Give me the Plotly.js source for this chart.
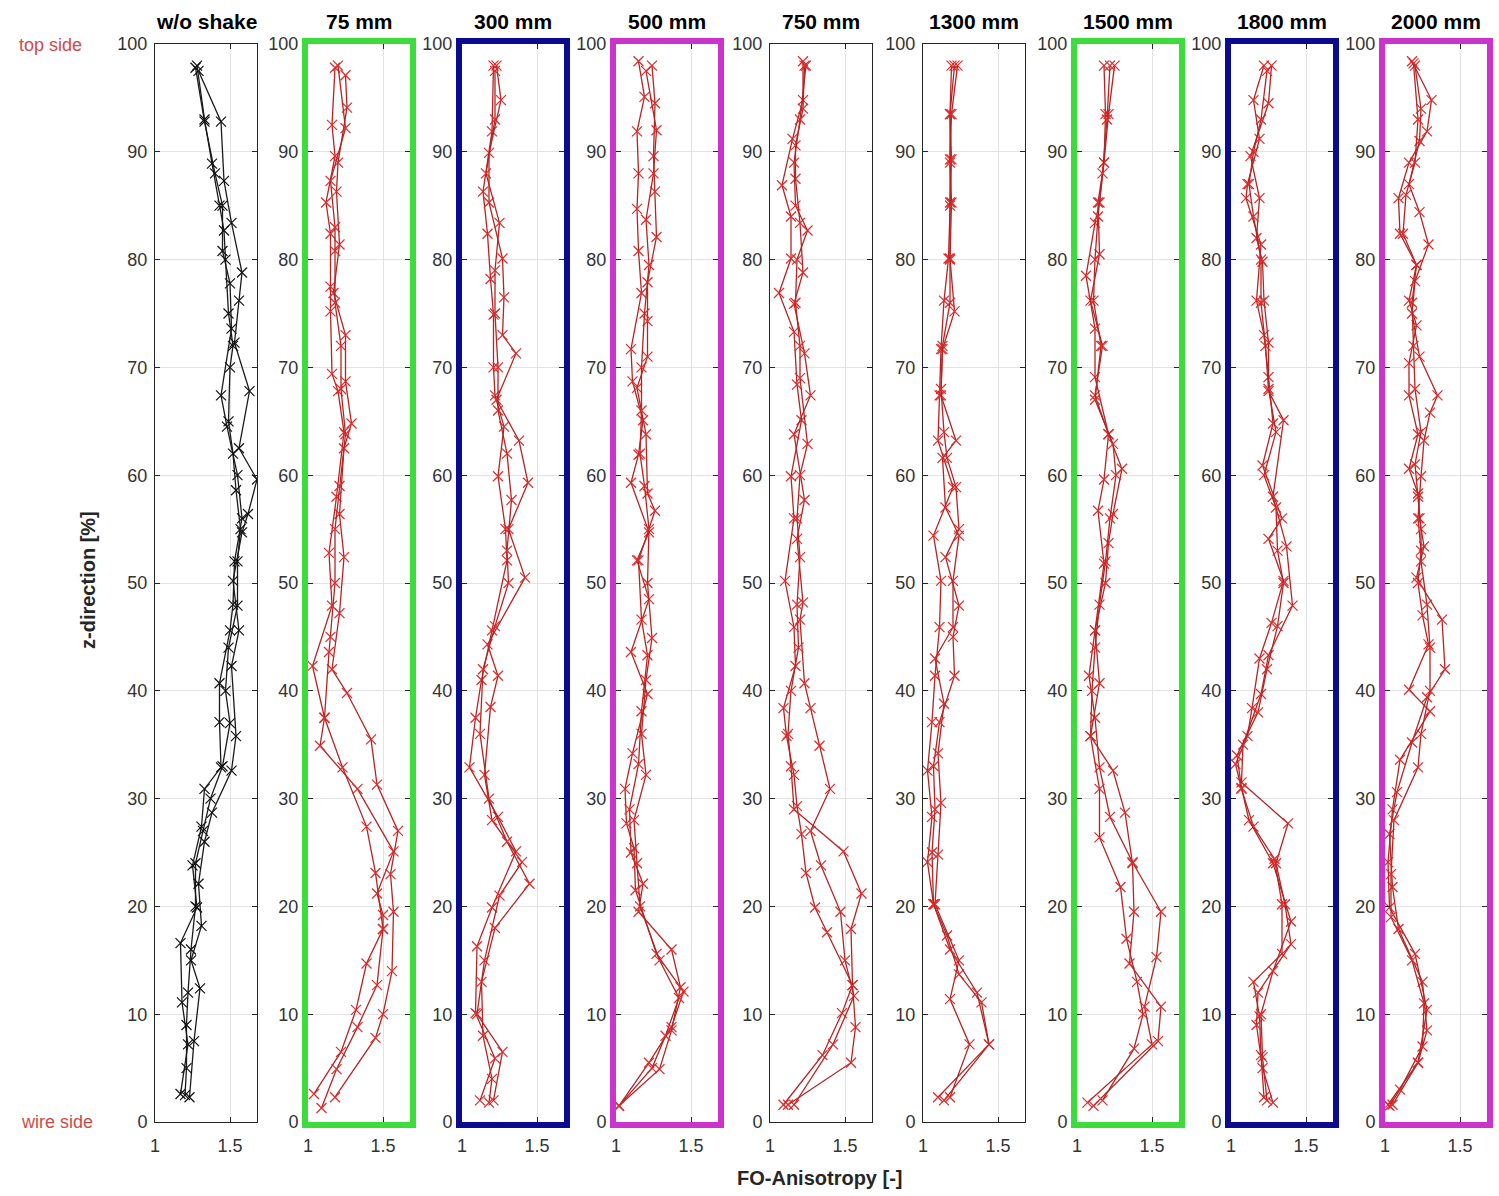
<!DOCTYPE html>
<html><head><meta charset="utf-8">
<script src="https://cdn.plot.ly/plotly-3.0.1.min.js"></script>
<style>body{margin:0;background:#fff}#chart{width:1499px;height:1196px}</style>
</head><body><div id="chart"></div>
<script>
const panelTitles = ['w/o shake','75 mm','300 mm','500 mm','750 mm','1300 mm','1500 mm','1800 mm','2000 mm'];
const frameColors = [null,'#3ddc3d','#0b0b8f','#cc33cc',null,null,'#3ddc3d','#0b0b8f','#cc33cc'];
const xTicks = [1, 1.5];

// w/o shake
const y_wo = [
 [97.8,92.8,88.0,85.0,80.8,77.8,73.6,67.4,64.5,60,56,52,48,45.6,40.7,37.1,32.9,30.9,27.4,23.8,19.9,16.6,11.1,7.2,2.6],
 [97.5,92.8,87.3,83.4,78.8,76.2,72.3,67.8,62.5,59.6,56.4,54.7,50.2,45.6,42.3,35.8,32.6,28.7,26,22.1,18.2,15,12.4,7.5,2.3],
 [98,93,88.9,85,82.7,80,75,72,70,65,62,58.6,55,52,47.9,44,40,37,33,30,27,24,20,16,12,9,5,2.5]];
const x_wo = [
 [1.27,1.33,1.40,1.45,1.45,1.50,1.51,1.44,1.48,1.55,1.58,1.53,1.52,1.50,1.43,1.43,1.44,1.33,1.31,1.25,1.28,1.17,1.18,1.22,1.17],
 [1.29,1.44,1.46,1.51,1.58,1.56,1.53,1.63,1.56,1.68,1.62,1.58,1.52,1.56,1.51,1.54,1.51,1.38,1.33,1.29,1.31,1.24,1.30,1.26,1.23],
 [1.28,1.33,1.38,1.43,1.46,1.47,1.49,1.52,1.50,1.49,1.52,1.54,1.57,1.55,1.55,1.49,1.47,1.50,1.45,1.37,1.32,1.27,1.27,1.24,1.22,1.21,1.21,1.20]];
// 75 mm
const y_75 = [
 [97.8,92.5,89.6,85.3,82.4,77.5,75.2,69.4,67.8,64,58,52.8,47.9,42.3,37.5,32.9,27.4,23.1,17.9,14.7,10.4,6.5,2.6],
 [97.1,94.1,89,86.3,81.4,76.9,73,68.7,64.8,62.5,56.4,52.4,47.2,42,39.8,35.5,31.3,27,23,19.5,14,10,7.8,2.3],
 [98,92.2,87.3,83,80.8,76,72,68,63.8,59,55,50,45,43.6,37.5,34.9,30.9,25.1,21.2,19.2,17.9,12.7,8.8,4.9,1.3]];
const x_75 = [
 [1.18,1.16,1.18,1.12,1.15,1.15,1.15,1.16,1.20,1.24,1.19,1.14,1.16,1.03,1.11,1.23,1.39,1.45,1.50,1.39,1.32,1.22,1.04],
 [1.25,1.26,1.20,1.19,1.21,1.17,1.25,1.25,1.29,1.24,1.21,1.24,1.21,1.16,1.26,1.42,1.46,1.60,1.55,1.57,1.56,1.50,1.45,1.18],
 [1.20,1.25,1.15,1.18,1.18,1.18,1.22,1.22,1.25,1.21,1.18,1.18,1.15,1.14,1.11,1.08,1.33,1.57,1.46,1.50,1.50,1.46,1.33,1.19,1.09]];
// 300 mm
const y_300 = [
 [98,91.9,86.3,82.4,78.2,74.9,70,67.4,64.5,59.9,55,52.1,45.6,41,37.5,32.9,28.3,25.1,19.9,16.3,10.1,5.9,2],
 [98,94.8,89.9,85.3,80.1,76.5,73,71.3,67,63.2,59.3,55,50.5,44.3,41.4,38.5,32.2,28,24.1,21,15,10,6.5,2],
 [97.5,93,88,83.4,79,75,70,66,62,57.7,53,50,46,42,36,30,26,22.1,18,13,8,4,1.8]];
const x_300 = [
 [1.21,1.20,1.14,1.17,1.19,1.21,1.21,1.22,1.28,1.24,1.29,1.30,1.20,1.13,1.09,1.05,1.24,1.36,1.20,1.10,1.09,1.22,1.12],
 [1.23,1.26,1.18,1.18,1.27,1.28,1.27,1.36,1.23,1.38,1.44,1.31,1.42,1.17,1.24,1.19,1.15,1.20,1.40,1.25,1.15,1.10,1.27,1.21],
 [1.22,1.22,1.16,1.25,1.22,1.22,1.24,1.24,1.30,1.33,1.30,1.31,1.22,1.14,1.12,1.18,1.30,1.45,1.22,1.13,1.14,1.20,1.18]];
// 500 mm
const y_500 = [
 [98.4,95.1,91.9,88,84.7,80.8,76.9,71.7,68.7,65.1,61.9,59.3,54.7,52.1,48.5,43.6,39.7,34.2,30.9,27.7,25.4,21.5,15.6,12.1,8.8,5.5,1.5],
 [98,94.5,89.6,86.3,82.1,77.9,74.3,71,68.1,63.8,58.3,56.7,52.1,46.6,43.3,38.1,33.2,29,25,22.1,19.5,16,12.5,8.5,4.9,1.5],
 [97.5,92,88,83.7,79.5,75,70,66,62,59,55,50,44.9,41,36,32.2,28,24,20,15,11.5,8,5,1.5]];
const x_500 = [
 [1.15,1.19,1.14,1.15,1.14,1.15,1.17,1.10,1.11,1.18,1.15,1.10,1.22,1.14,1.22,1.10,1.21,1.11,1.06,1.07,1.12,1.13,1.27,1.45,1.37,1.22,1.02],
 [1.24,1.26,1.25,1.26,1.27,1.21,1.21,1.21,1.14,1.20,1.21,1.26,1.15,1.17,1.21,1.17,1.15,1.09,1.10,1.18,1.15,1.37,1.43,1.37,1.29,1.02],
 [1.20,1.27,1.25,1.20,1.22,1.19,1.17,1.17,1.16,1.19,1.22,1.21,1.24,1.20,1.17,1.20,1.12,1.14,1.16,1.29,1.42,1.33,1.24,1.02]];
// 750 mm
const y_750 = [
 [98.4,94.8,91.2,86.9,84,80.1,76.9,73.3,68.4,65.1,59.9,56,50.2,45.9,42.3,38.4,35.8,32.2,29.3,26.7,23.1,19.9,17.6,12.7,10.1,6.2,1.6],
 [98,94,90.6,87.5,83.4,78.8,75.9,71.3,67.4,63.8,57.7,54.1,48.2,46.6,40.7,38.4,34.9,30.9,27,23.8,19.5,15,11.7,7.2,1.6],
 [98,93,89,85,82.7,80,76,72,69,62.9,60,56,52.4,48,44,40,36,33,29,25.1,21.2,17.9,12.7,8.8,5.5,1.6]];
const x_750 = [
 [1.22,1.22,1.15,1.08,1.14,1.14,1.06,1.16,1.18,1.21,1.14,1.16,1.10,1.16,1.17,1.09,1.11,1.16,1.18,1.21,1.24,1.30,1.38,1.55,1.48,1.35,1.09],
 [1.23,1.22,1.17,1.17,1.20,1.22,1.16,1.23,1.27,1.16,1.23,1.18,1.22,1.20,1.23,1.27,1.33,1.40,1.27,1.34,1.47,1.50,1.56,1.42,1.16],
 [1.24,1.20,1.16,1.17,1.25,1.18,1.17,1.20,1.20,1.25,1.20,1.18,1.20,1.18,1.19,1.14,1.12,1.14,1.16,1.49,1.61,1.54,1.55,1.57,1.54,1.12]];
// 1300 mm
const y_1300 = [
 [98,93.5,89.3,85.3,80.1,76.2,71.7,67.4,63.2,58.9,54.4,50.2,45.9,41.4,37.1,32.6,28.3,24.1,20.2,17.3,13.7,11.1,7.2,2.3],
 [98,93.5,89.3,85.3,80.1,75.2,71.7,67.4,63.2,61.6,57,54.4,50.2,45.9,43,38.8,34.2,29.6,24.8,20.2,15,11.4,7.2,2.3],
 [98,93.5,89,85,80,76,72,68,64,61.6,58.9,55,52.4,47.9,45,41.4,37.1,33,29,25,20.2,16,12,7.2,2]];
const x_1300 = [
 [1.19,1.18,1.19,1.18,1.17,1.14,1.12,1.11,1.10,1.20,1.07,1.12,1.11,1.08,1.06,1.03,1.06,1.03,1.07,1.16,1.24,1.39,1.44,1.10],
 [1.23,1.19,1.18,1.19,1.18,1.21,1.13,1.12,1.22,1.13,1.15,1.24,1.20,1.20,1.08,1.14,1.10,1.12,1.10,1.08,1.24,1.18,1.31,1.18],
 [1.21,1.18,1.18,1.18,1.18,1.18,1.13,1.12,1.14,1.16,1.22,1.24,1.15,1.24,1.20,1.21,1.11,1.07,1.08,1.06,1.07,1.18,1.36,1.44,1.14]];
// 1500 mm
const y_1500 = [
 [98,93.5,89,85.3,80.5,76.2,72,67.4,63.8,59.6,56.7,51.8,45.6,41.4,37.5,32.9,28.3,24.1,19.5,15.3,10.7,7.2,1.8],
 [98,93.5,89,85.3,83.4,78.5,73.6,69.1,63.8,60.6,56.4,53.7,50,45.6,40.7,35.8,32.6,28.7,24,19.5,14.7,10.7,7.5,1.5],
 [98,93,88,84,80,76.2,72,67,62.9,60,56,52,48,44,40,35.8,30.9,26.4,21.8,17,13,10,6.8,2]];
const x_1500 = [
 [1.18,1.19,1.18,1.14,1.15,1.09,1.17,1.12,1.21,1.18,1.14,1.18,1.12,1.08,1.12,1.15,1.22,1.37,1.56,1.53,1.45,1.50,1.07],
 [1.25,1.21,1.18,1.15,1.12,1.06,1.12,1.12,1.21,1.30,1.24,1.21,1.19,1.12,1.15,1.09,1.24,1.32,1.37,1.38,1.35,1.56,1.54,1.11],
 [1.22,1.20,1.17,1.14,1.12,1.11,1.16,1.12,1.24,1.26,1.22,1.19,1.15,1.12,1.10,1.09,1.15,1.15,1.29,1.33,1.40,1.44,1.38,1.17]];
// 1800 mm
const y_1800 = [
 [98,94.8,91.2,87,85.7,81.4,76.2,73,69.1,64.8,60.9,56,54.1,50.2,46.3,43,38.4,35.8,33.2,30.9,27.4,24.4,20.2,15.6,13,9.8,6.2,2.3],
 [98,94.5,89.6,85.7,82,79.8,76.2,72.3,67.8,65.1,58,53.4,47.9,43.3,39.7,35,31.5,27.7,24,20.2,16.5,12,9,5,1.8],
 [97.5,93,90,87,84,80,76,72,68,64,60,57,53,50,46,42,38,34,31,28,24,18.6,14,10,6,2]];
const x_1800 = [
 [1.22,1.15,1.19,1.11,1.10,1.20,1.17,1.22,1.25,1.28,1.21,1.34,1.25,1.35,1.27,1.19,1.14,1.11,1.03,1.07,1.15,1.29,1.34,1.34,1.15,1.19,1.20,1.22],
 [1.27,1.25,1.13,1.19,1.17,1.21,1.22,1.25,1.25,1.35,1.28,1.37,1.41,1.25,1.20,1.08,1.07,1.38,1.30,1.36,1.40,1.18,1.17,1.21,1.28],
 [1.24,1.20,1.15,1.12,1.15,1.20,1.20,1.23,1.25,1.30,1.22,1.30,1.31,1.35,1.31,1.24,1.18,1.04,1.07,1.12,1.28,1.40,1.28,1.20,1.21,1.24]];
// 2000 mm
const y_2000 = [
 [98.4,94.8,91.9,89,85.7,82.4,79.5,76.2,73.9,70.4,67.4,63.8,60.6,58.3,56,53.4,50.5,46.6,42,39.4,35.2,30.6,26.7,21.8,17.9,13,8.5,5.5,1.6],
 [98,94,91,87,84.4,81.4,78,75,71,67.4,65.8,63.2,59.9,56,53,50,47,44.3,40.1,38.1,33.6,29,24.1,19.9,15.6,10.4,5.5,1.6],
 [98.2,93,89,86,82.4,79.5,76,72,68,64,61,58,55,52,48,44,40,36,32.9,28,23,19,15,11,7,3,1.5]];
const x_2000 = [
 [1.18,1.31,1.28,1.16,1.09,1.10,1.21,1.16,1.21,1.16,1.16,1.22,1.16,1.22,1.23,1.26,1.21,1.38,1.40,1.28,1.18,1.08,1.03,1.05,1.09,1.25,1.28,1.22,1.02],
 [1.20,1.24,1.23,1.16,1.23,1.29,1.20,1.18,1.23,1.35,1.30,1.26,1.24,1.22,1.24,1.22,1.25,1.29,1.16,1.30,1.10,1.05,1.02,1.03,1.20,1.28,1.22,1.05],
 [1.19,1.22,1.20,1.14,1.12,1.21,1.18,1.19,1.20,1.24,1.20,1.22,1.24,1.24,1.28,1.30,1.30,1.24,1.22,1.06,1.04,1.04,1.18,1.26,1.25,1.10,1.03]];

const allX = [x_wo,x_75,x_300,x_500,x_750,x_1300,x_1500,x_1800,x_2000];
const allY = [y_wo,y_75,y_300,y_500,y_750,y_1300,y_1500,y_1800,y_2000];

const W = 1499, H = 1196;
const panelLeft = [155,308,462,616,770,923,1077,1231,1385];
const panelW = 102;
const yTop = 44, yBot = 1122;
const FONT = 'Liberation Sans, Arial, Helvetica, sans-serif';
const data = [];
const layout = {
  width: W, height: H, margin:{l:0,r:0,t:0,b:0},
  paper_bgcolor:'#fff', plot_bgcolor:'#fff', showlegend:false,
  font:{family:FONT, color:'#262626'},
  annotations:[], shapes:[]
};
for (let i=0;i<9;i++){
  const ax = i===0 ? '' : String(i+1);
  for (let j=0;j<allX[i].length;j++){
    data.push({type:'scatter', mode:'lines+markers', x:allX[i][j], y:allY[i][j],
      xaxis:'x'+ax, yaxis:'y'+ax, hoverinfo:'skip',
      line:{color: i===0 ? '#1a1a1a' : '#b52424', width:1.3},
      marker:{symbol:'x-thin', size:10, line:{width:1.2, color: i===0 ? '#111' : '#dd2a2a'}}});
  }
  const l = panelLeft[i]/W, r = (panelLeft[i]+panelW)/W;
  const fc = frameColors[i];
  layout['xaxis'+ax] = {domain:[l,r], range:[1,1.68], anchor:'y'+ax, tickvals:xTicks, ticktext:['1','1.5'],
    showgrid:true, gridcolor:'#e3e3e3', zeroline:false, ticks:'inside', ticklen:5, tickcolor:'#262626',
    showline:true, mirror:'ticks', linecolor: fc || '#262626', linewidth: fc ? 6 : 1,
    ticklabelstandoff: fc ? 2 : 7,
    tickfont:{size:18, color:'#333', family:FONT}, fixedrange:true};
  layout['yaxis'+ax] = {domain:[1-yBot/H, 1-yTop/H], range:[0,100], anchor:'x'+ax, dtick:10,
    showgrid:true, gridcolor:'#e3e3e3', zeroline:false, ticks:'inside', ticklen:5, tickcolor:'#262626',
    showline:true, mirror:'ticks', linecolor: fc || '#262626', linewidth: fc ? 6 : 1,
    ticklabelstandoff: fc ? 0 : 3,
    tickfont:{size:18, color:'#333', family:FONT}, fixedrange:true};
  layout.annotations.push({text:'<b>'+panelTitles[i]+'</b>', xref:'paper', yref:'paper',
    x:(panelLeft[i]+panelW/2)/W, y:1-22/H, xanchor:'center', yanchor:'middle', showarrow:false,
    font:{size:21, color:'#000', family:FONT}});
}
layout.annotations.push({text:'top side', xref:'paper', yref:'paper', x:50/W, y:1-45/H,
  xanchor:'center', yanchor:'middle', showarrow:false, font:{size:18, color:'#d04a4a', family:FONT}});
layout.annotations.push({text:'wire side', xref:'paper', yref:'paper', x:57/W, y:1-1122/H,
  xanchor:'center', yanchor:'middle', showarrow:false, font:{size:18, color:'#d04a4a', family:FONT}});
layout.annotations.push({text:'<b>z-direction [%]</b>', xref:'paper', yref:'paper', x:88/W, y:1-580/H,
  xanchor:'center', yanchor:'middle', textangle:-90, showarrow:false, font:{size:20, color:'#262626', family:FONT}});
layout.annotations.push({text:'<b>FO-Anisotropy [-]</b>', xref:'paper', yref:'paper', x:820/W, y:1-1178/H,
  xanchor:'center', yanchor:'middle', showarrow:false, font:{size:20, color:'#262626', family:FONT}});

Plotly.newPlot('chart', data, layout, {staticPlot:true, displayModeBar:false});
</script></body></html>
